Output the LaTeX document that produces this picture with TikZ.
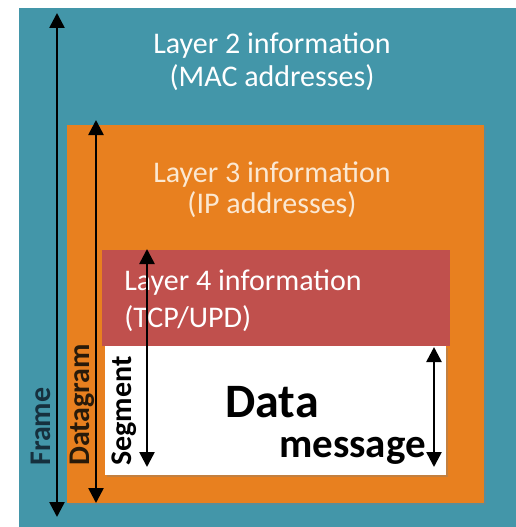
\documentclass[tikz,border=0pt]{standalone}
\usepackage{fontspec}
\setmainfont{Carlito}
\usetikzlibrary{arrows.meta,positioning,shadows}

\definecolor{frameteal}{RGB}{67,150,169}
\definecolor{dgorange}{RGB}{232,128,31}
\definecolor{segred}{RGB}{192,80,77}
\definecolor{creamtext}{RGB}{251,232,210}
\definecolor{framelbl}{RGB}{22,48,62}
\definecolor{dglbl}{RGB}{40,26,10}

\begin{document}
\begin{tikzpicture}[x=1pt,y=-1pt,line width=2.6pt,
    >={Triangle[length=15pt,width=15pt]}]
        \useasboundingbox (0,0) rectangle (516,527);
        \tikzstyle{box}=[inner sep=0pt,anchor=north west]
        \tikzstyle{info}=[inner sep=0pt,anchor=base,font=\fontsize{30}{32}\selectfont]
        \tikzstyle{side}=[inner sep=0pt,anchor=base west,rotate=90,font=\fontsize{30}{32}\selectfont\bfseries]

        % nested boxes
        \node[box,fill=frameteal,minimum width=498pt,minimum height=520pt] (frame) at (18,7) {};
        \node[box,fill=dgorange,minimum width=417pt,minimum height=378pt,
              drop shadow={opacity=0.35,shadow xshift=1.5pt,shadow yshift=-1.5pt}] (datagram) at (66,124) {};
        \node[box,fill=white,minimum width=341pt,minimum height=129pt,
              drop shadow={opacity=0.35,shadow xshift=1.5pt,shadow yshift=-1.5pt}] (data) at (104,345) {};
        \node[box,fill=segred,minimum width=348pt,minimum height=96pt] (segment) at (101,249) {};

        % texts
        \node[info,text=white] (l2a) at (272,54) {Layer 2 information};
        \node[info,text=white] (l2b) at ([yshift=-32pt]l2a.base) {(MAC addresses)};
        \node[info,text=creamtext] (l3a) at (272,182) {Layer 3 information};
        \node[info,text=creamtext] (l3b) at ([yshift=-31pt]l3a.base) {(IP addresses)};
        \node[info,text=white,anchor=base west] (l4a) at (123,290) {Layer 4 information};
        \node[info,text=white,anchor=base west] (l4b) at ([yshift=-37pt]l4a.base west) {(TCP/UPD)};
        \node[inner sep=0pt,anchor=base,font=\fontsize{48}{50}\selectfont\bfseries] (datalbl) at (272,417) {Data};
        \node[inner sep=0pt,anchor=base east,font=\fontsize{41}{43}\selectfont\bfseries] (msglbl) at (427,457) {message};

        \node[side,text=framelbl] (framelbl) at (50,467) {Frame};
        \node[side,text=dglbl] (dglbl) at (89,467) {Datagram};
        \node[side] (seglbl) at (131,467) {Segment};

        % arrows
        \coordinate (ft) at (57,13);   \coordinate (fb) at (57,517);
        \coordinate (dt) at (96,120);  \coordinate (db) at (96,503);
        \coordinate (st) at (147,249); \coordinate (sb) at (147,467);
        \coordinate (mt) at (434,347); \coordinate (mb) at (434,467);

        \draw[<->] (ft) -- (fb);
        \draw[<->] (dt) -- (db);
        \draw[<->] (st) -- (sb);
        \draw[<->] (mt) -- (mb);
\end{tikzpicture}
\end{document}
